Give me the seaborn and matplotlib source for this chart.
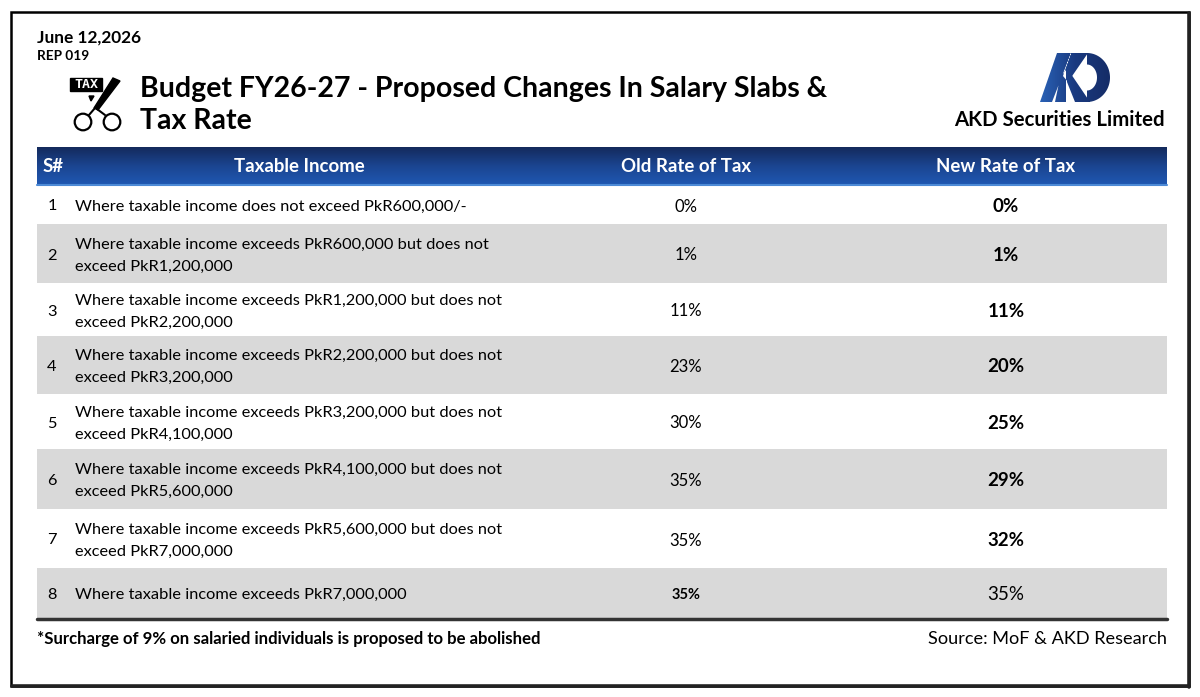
import numpy as np
import matplotlib
matplotlib.use("Agg")
import matplotlib.pyplot as plt
import seaborn as sns
from matplotlib.patches import Rectangle, Polygon, Circle, PathPatch
from matplotlib.path import Path
from matplotlib.colors import LinearSegmentedColormap

# -------------------------------
# Table data
# -------------------------------
serial = [1, 2, 3, 4, 5, 6, 7, 8]
income_line1 = [
    "Where taxable income does not exceed PkR600,000/-",
    "Where taxable income exceeds PkR600,000 but does not",
    "Where taxable income exceeds PkR1,200,000 but does not",
    "Where taxable income exceeds PkR2,200,000 but does not",
    "Where taxable income exceeds PkR3,200,000 but does not",
    "Where taxable income exceeds PkR4,100,000 but does not",
    "Where taxable income exceeds PkR5,600,000 but does not",
    "Where taxable income exceeds PkR7,000,000",
]
income_line2 = [
    "",
    "exceed PkR1,200,000",
    "exceed PkR2,200,000",
    "exceed PkR3,200,000",
    "exceed PkR4,100,000",
    "exceed PkR5,600,000",
    "exceed PkR7,000,000",
    "",
]
old_rate = ["0%", "1%", "11%", "23%", "30%", "35%", "35%", "35%"]
new_rate = ["0%", "1%", "11%", "20%", "25%", "29%", "32%", "35%"]
headers = ["S#", "Taxable Income", "Old Rate of Tax", "New Rate of Tax"]

# layout (pixels)
row_heights = [39, 59, 53, 58, 55, 60, 59, 50]
old_bold = [False] * 7 + [True]
new_bold = [True] * 7 + [False]

sns.set_theme(style="white")
plt.rcParams["font.family"] = ["Lato", "DejaVu Sans"]
plt.rcParams["text.color"] = "black"

W, H = 1200, 697
fig = plt.figure(figsize=(12, 6.97), dpi=100)
ax = fig.add_axes([0, 0, 1, 1])
ax.set_xlim(0, W)
ax.set_ylim(H, 0)
ax.axis("off")

# outer frame
ax.add_patch(Rectangle((11, 12), 1178, 674, fill=False, edgecolor="black", lw=1.8, zorder=5))
ax.plot([1189, 1189], [13, 687], color="#222222", lw=2.6, zorder=5)
ax.plot([12, 1189], [686, 686], color="#222222", lw=2.6, zorder=5)

# date / report no
ax.text(37, 38, "June 12,2026", fontsize=12.4, fontweight="bold", va="center", ha="left")
ax.text(37, 56, "REP 019", fontsize=9.8, fontweight="bold", va="center", ha="left")

# title
ax.text(140, 89, "Budget FY26-27 - Proposed Changes In Salary Slabs &", fontsize=20.5,
        fontweight="bold", va="center", ha="left")
ax.text(140, 121, "Tax Rate", fontsize=20.5, fontweight="bold", va="center", ha="left")

# tax icon
ax.add_patch(Rectangle((70, 78), 32, 13, color="black", zorder=3))
ax.text(86, 84.8, "TAX", color="white", fontsize=9.5, fontweight="bold", ha="center", va="center",
        family="DejaVu Sans Mono", zorder=4)
ax.add_patch(Polygon([(113, 78), (120, 81), (98, 110), (94, 108)], color="black", zorder=4))
ax.add_patch(Polygon([(89, 96), (94, 96), (91, 101)], color="black", zorder=3))
ax.plot([95, 89], [108, 115], color="black", lw=1.5)
ax.plot([97, 105], [109, 115], color="black", lw=1.5)
ax.add_patch(Circle((83, 122), 8.3, fill=False, edgecolor="black", lw=1.6))
ax.add_patch(Circle((112, 122), 8.3, fill=False, edgecolor="black", lw=1.6))

# AKD logo
blue_cmap = LinearSegmentedColormap.from_list("akd", ["#2a63b8", "#1a3a80", "#152c66"])
a_stroke = [(1040, 102), (1052, 102), (1071, 53), (1057, 53)]
k_stem = [(1055, 102), (1066, 102), (1066, 70), (1060, 78)]
k_up = [(1071, 53), (1088, 53), (1068, 82), (1063, 76)]
k_low = [(1067, 82), (1071, 74), (1090, 102), (1075, 102)]
t = np.linspace(-np.pi / 2, np.pi / 2, 60)
outer = [(1087 + 23 * np.cos(a), 77.5 + 24.5 * np.sin(a)) for a in t]
inner = [(1087 + 10 * np.cos(a), 77.5 + 13 * np.sin(a)) for a in t[::-1]]
d_shape = outer + inner
paths = [Path(np.array(p + [p[0]]), closed=True) for p in [a_stroke, k_stem, k_up, k_low, d_shape]]
logo_path = Path.make_compound_path(*paths)
logo_patch = PathPatch(logo_path, facecolor="none", edgecolor="none")
ax.add_patch(logo_patch)
grad = np.linspace(0, 1, 100).reshape(1, -1)
im = ax.imshow(grad, extent=[1038, 1112, 104, 50], cmap=blue_cmap, aspect="auto", zorder=3)
im.set_clip_path(logo_patch)
ax.text(1165, 120, "AKD Securities Limited", fontsize=14.7, fontweight="bold", ha="right", va="center")

# header bar gradient
head_cmap = LinearSegmentedColormap.from_list("head", ["#142a5c", "#1b4591", "#1f58b2"])
hgrad = np.linspace(0, 1, 100).reshape(-1, 1)
ax.imshow(hgrad, extent=[37, 1167, 185, 147], cmap=head_cmap, aspect="auto", zorder=2)
ax.plot([37, 1167], [184.5, 184.5], color="#4d8ad6", lw=1.5, zorder=3)
col_x = [43, 299, 686, 1006]
for i, h in enumerate(headers):
    ax.text(col_x[i], 167, h, color="white", fontsize=13.4, fontweight="bold",
            ha="left" if i == 0 else "center", va="center", zorder=4)

# rows
y = 185
for i in range(len(serial)):
    rh = row_heights[i]
    if i % 2 == 1:
        ax.add_patch(Rectangle((37, y), 1130, rh, color="#d9d9d9", lw=0, zorder=1))
    yc = y + rh / 2 + 2
    ax.text(52, yc, str(serial[i]), fontsize=11.8, ha="center", va="center")
    if income_line2[i]:
        ax.text(75, yc - 11, income_line1[i], fontsize=11.8, ha="left", va="center")
        ax.text(75, yc + 11, income_line2[i], fontsize=11.8, ha="left", va="center")
    else:
        ax.text(75, yc, income_line1[i], fontsize=11.8, ha="left", va="center")
    ax.text(686, yc, old_rate[i], fontsize=10.5 if old_bold[i] else 12,
            fontweight="bold" if old_bold[i] else "normal", ha="center", va="center")
    ax.text(1006, yc, new_rate[i], fontsize=13.5,
            fontweight="bold" if new_bold[i] else "normal", ha="center", va="center")
    y += rh

ax.plot([37, 1167], [y + 1, y + 1], color="#333333", lw=2.5, zorder=3)

# footnotes
ax.text(37, 639, "*Surcharge of 9% on salaried individuals is proposed to be abolished",
        fontsize=12.1, fontweight="bold", ha="left", va="center")
ax.text(1167, 639, "Source: MoF & AKD Research", fontsize=13.1, ha="right", va="center")

ax.set_xlim(0, W)
ax.set_ylim(H, 0)
fig.savefig("out.png", dpi=100)
